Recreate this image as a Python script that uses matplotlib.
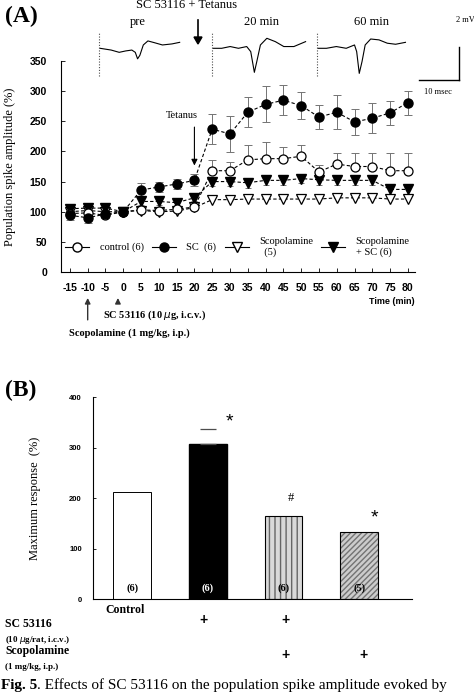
import matplotlib.pyplot as plt
from matplotlib.lines import Line2D

plt.rcParams['axes.unicode_minus'] = False

W, H = 474, 694

# ---- panel A data (population spike amplitude, %)
time_min = [-15, -10, -5, 0, 5, 10, 15, 20, 25, 30, 35, 40, 45, 50, 55, 60, 65, 70, 75, 80]
control = [97, 98, 94, 100, 103, 102, 104, 108, 168, 168, 186, 188, 188, 192, 166, 179, 175, 175, 168, 168]
control_err = [4, 4, 4, 0, 5, 5, 5, 6, 18, 15, 25, 28, 20, 18, 12, 18, 22, 22, 30, 30]
sc = [94, 90, 96, 100, 136, 141, 146, 152, 237, 229, 265, 278, 285, 276, 257, 265, 249, 255, 264, 281]
sc_err = [8, 8, 6, 0, 12, 8, 8, 10, 25, 30, 25, 30, 25, 22, 20, 28, 22, 25, 20, 20]
scop = [100, 102, 100, 100, 102, 100, 101, 107, 120, 120, 121, 121, 121, 121, 121, 123, 123, 123, 121, 121]
scop_err = [4, 4, 4, 0, 4, 4, 4, 4, 5, 5, 5, 5, 5, 5, 5, 5, 5, 5, 5, 5]
scop_sc = [105, 106, 106, 100, 117, 117, 115, 123, 150, 150, 148, 152, 152, 155, 153, 152, 152, 152, 137, 137]
scop_sc_err = [6, 6, 6, 0, 6, 6, 6, 6, 8, 8, 8, 8, 8, 8, 8, 8, 8, 8, 8, 8]

# ---- example field potential traces (ms, mV)
pre_t = [0, 2.9, 5.0, 6.7, 8.3, 9.2, 9.8, 10.4, 11.3, 12.5, 14.2, 16.3, 18.8, 20.8]
pre_mv = [0, -0.1, -0.23, -0.15, -0.1, -0.23, -0.6, -0.4, 0.19, 0.42, 0.32, 0.19, 0.25, 0.34]
m20_t = [0, 2.1, 4.2, 6.25, 8.3, 9.3, 10.2, 10.8, 11.7, 13.3, 15.4, 17.5, 20.0, 22.9]
m20_mv = [0, 0, 0.1, 0, 0.1, -0.19, -1.37, -0.76, 0.19, 0.57, 0.38, 0.1, 0.1, 0.38]
m60_t = [0, 2.1, 4.6, 7.1, 9.2, 9.75, 10.4, 11.1, 11.9, 13.3, 15.4, 17.5, 19.6, 22.1]
m60_mv = [0, 0, 0.1, 0, 0.19, -0.19, -1.43, -0.76, 0.19, 0.53, 0.48, 0.29, 0.23, 0.34]

# ---- panel B data
groups = ['Control', 'SC', 'SC + Scop', 'Scop']
max_resp = [212, 306, 165, 132]
n_labels = ['(6)', '(6)', '(6)', '(5)']

SERIF = 'Liberation Serif'
SANS = 'Liberation Sans'


def fx(px):
    return px / W


def fy(py):
    return 1 - py / H


def box(l, t, r, b):
    return [l / W, 1 - b / H, (r - l) / W, (b - t) / H]


fig = plt.figure(figsize=(W / 100, H / 100), dpi=100)

# ================= panel A =================
ax = fig.add_axes(box(61, 61, 415, 272))
ls = (0, (3, 2))
ax.errorbar(time_min, sc, yerr=sc_err, fmt='none', ecolor='0.45', elinewidth=0.7, capsize=3, capthick=0.7)
ax.errorbar(time_min, control, yerr=[[0] * len(control_err), control_err], fmt='none', ecolor='0.45',
            elinewidth=0.7, capsize=3, capthick=0.7)
ax.errorbar(time_min, scop_sc, yerr=scop_sc_err, fmt='none', ecolor='0.45', elinewidth=0.7, capsize=2, capthick=0.7)
ax.plot(time_min, scop, color='k', ls=ls, lw=0.8, marker='v', ms=6.5, mfc='white', mec='k', mew=0.9)
ax.plot(time_min, scop_sc, color='k', ls=ls, lw=0.8, marker='v', ms=6.5, mfc='k', mec='k')
ax.plot(time_min, control, color='k', ls=ls, lw=0.8, marker='o', ms=6.5, mfc='white', mec='k', mew=0.9)
ax.plot(time_min, sc, color='k', ls=ls, lw=0.8, marker='o', ms=6.5, mfc='k', mec='k')

ax.set_xlim(-17.5, 82)
ax.set_ylim(0, 350)
ax.set_xticks(time_min)
ax.set_yticks([0, 50, 100, 150, 200, 250, 300, 350])
for s in ['top', 'right']:
    ax.spines[s].set_visible(False)
ax.spines['left'].set_linewidth(0.8)
ax.spines['bottom'].set_linewidth(0.8)
ax.tick_params(direction='in', length=3, width=0.6, pad=10)
ax.tick_params(axis='x', pad=8)
for lab in ax.get_xticklabels() + ax.get_yticklabels():
    lab.set_fontfamily(SANS)
    lab.set_fontweight('bold')
    lab.set_fontsize(7.5)
ax.set_ylabel('Population spike amplitude (%)', fontfamily=SERIF, fontsize=9, labelpad=10)
ax.text(1.0, -0.14, 'Time (min)', transform=ax.transAxes, ha='right', va='center',
        fontfamily=SANS, fontweight='bold', fontsize=6.5)

handles = [
    Line2D([], [], color='k', lw=0.8, marker='o', ms=6.5, mfc='white', mec='k'),
    Line2D([], [], color='k', lw=0.8, marker='o', ms=6.5, mfc='k', mec='k'),
    Line2D([], [], color='k', lw=0.8, marker='v', ms=6.5, mfc='white', mec='k'),
    Line2D([], [], color='k', lw=0.8, marker='v', ms=6.5, mfc='k', mec='k'),
]
ax.legend(handles, ['control (6)', 'SC  (6)', 'Scopolamine\n  (5)', 'Scopolamine\n+ SC (6)'],
          loc='center left', bbox_to_anchor=(0.0, 0.12), ncol=4, frameon=False,
          prop={'family': SERIF, 'size': 7.5}, handlelength=2.3, handletextpad=1.0,
          columnspacing=0.8, borderaxespad=0)

# tetanus arrow
xa = ax.get_xaxis_transform()
ax.annotate('', xy=(20, 172), xytext=(20, 245),
            arrowprops=dict(arrowstyle='-|>', color='k', lw=0.8, mutation_scale=9))
ax.text(16.5, 252, 'Tetanus', ha='center', va='bottom', fontfamily=SERIF, fontsize=7.5)

# drug injection arrows below axis
ax.annotate('', xy=(-10, -0.11), xytext=(-10, -0.24), xycoords=xa, textcoords=xa,
            arrowprops=dict(arrowstyle='-|>', color='0.2', lw=1.0, mutation_scale=8))
ax.annotate('', xy=(-1.5, -0.11), xytext=(-1.5, -0.16), xycoords=xa, textcoords=xa,
            arrowprops=dict(arrowstyle='-|>', color='0.2', lw=1.0, mutation_scale=8))
fig.text(fx(103), fy(315), 'SC 53116 (10 $\\mu$g, i.c.v.)', ha='left', va='center',
         fontfamily=SERIF, fontweight='bold', fontsize=7.5)
fig.text(fx(69), fy(333), 'Scopolamine (1 mg/kg, i.p.)', ha='left', va='center',
         fontfamily=SERIF, fontweight='bold', fontsize=7.5)

# traces
for (l, r), tt, vv in [((100, 190), pre_t, pre_mv), ((213, 308), m20_t, m20_mv), ((318, 411), m60_t, m60_mv)]:
    tax = fig.add_axes(box(l - 3, 29, r, 79))
    tax.plot(tt, vv, color='k', lw=0.8)
    tax.plot([-0.4, -0.4], [-1.6, 0.9], color='0.3', lw=0.8, ls=(0, (1, 1.5)))
    tax.set_xlim(-0.8, 23.5)
    tax.set_ylim(-1.75, 1.1)
    tax.axis('off')

fig.text(fx(5), fy(16), '(A)', fontfamily=SERIF, fontweight='bold', fontsize=17, ha='left', va='center')
fig.text(fx(187), fy(5), 'SC 53116 + Tetanus', fontfamily=SERIF, fontsize=9, ha='center', va='center')
fig.text(fx(138), fy(22), 'pre', fontfamily=SERIF, fontsize=9, ha='center', va='center')
fig.text(fx(261), fy(22), '20 min', fontfamily=SERIF, fontsize=9, ha='center', va='center')
fig.text(fx(372), fy(22), '60 min', fontfamily=SERIF, fontsize=9, ha='center', va='center')
fig.add_artist(plt.Line2D([fx(198), fx(198)], [fy(20), fy(38)], color='k', lw=1.2))
fig.add_artist(plt.Polygon([[fx(194), fy(37)], [fx(202), fy(37)], [fx(198), fy(44)]], closed=True,
                           color='k', transform=fig.transFigure))
# scale bar
fig.add_artist(plt.Line2D([fx(459), fx(459)], [fy(47), fy(80)], color='k', lw=1.0))
fig.add_artist(plt.Line2D([fx(419), fx(459)], [fy(80), fy(80)], color='k', lw=1.0))
fig.text(fx(465), fy(20), '2 mV', fontfamily=SERIF, fontsize=6, ha='center', va='center')
fig.text(fx(438), fy(92), '10 msec', fontfamily=SERIF, fontsize=6, ha='center', va='center')

# ================= panel B =================
bx = fig.add_axes(box(93, 397, 412, 599))
pos = list(range(len(groups)))
bw = 0.5
bx.bar(pos[0], max_resp[0], bw, color='white', edgecolor='k', lw=0.7)
bx.bar(pos[1], max_resp[1], bw, color='k', edgecolor='k')
bx.errorbar(pos[1], max_resp[1], yerr=[[0], [30]], fmt='none', ecolor='0.3', elinewidth=0, capsize=6,
            capthick=0.9)
bx.bar(pos[2], max_resp[2], bw, color='0.85', edgecolor='0.4', hatch='|||', lw=0)
bx.bar(pos[2], max_resp[2], bw, fill=False, edgecolor='k', lw=0.8)
bx.bar(pos[3], max_resp[3], bw, color='0.8', edgecolor='0.45', hatch='//////', lw=0)
bx.bar(pos[3], max_resp[3], bw, fill=False, edgecolor='k', lw=0.8)
for p, lab in zip(pos, n_labels):
    bx.text(p, 22, lab, ha='center', va='center', fontfamily=SERIF, fontweight='bold', fontsize=7.5,
            color='white' if p == 1 else 'k')
bx.text(pos[1] + 0.28, 350, '*', ha='center', va='center', fontfamily=SANS, fontsize=14)
bx.text(pos[2] + 0.1, 200, '#', ha='center', va='center', fontfamily=SERIF, fontsize=9)
bx.text(pos[3] + 0.2, 160, '*', ha='center', va='center', fontfamily=SANS, fontsize=14)

bx.set_xlim(-0.52, 3.7)
bx.set_ylim(0, 400)
bx.set_xticks([])
bx.set_yticks([0, 100, 200, 300, 400])
for s in ['top', 'right']:
    bx.spines[s].set_visible(False)
bx.spines['left'].set_linewidth(0.8)
bx.spines['bottom'].set_linewidth(0.8)
bx.tick_params(direction='in', length=2, width=0.6, pad=8)
for lab in bx.get_yticklabels():
    lab.set_fontfamily(SANS)
    lab.set_fontweight('bold')
    lab.set_fontsize(5.5)
bx.set_ylabel('Maximum response  (%)', fontfamily=SERIF, fontsize=9, labelpad=20)

fig.text(fx(5), fy(390), '(B)', fontfamily=SERIF, fontweight='bold', fontsize=17, ha='left', va='center')
fig.text(fx(125), fy(610), 'Control', fontfamily=SERIF, fontweight='bold', fontsize=8.5, ha='center', va='center')
fig.text(fx(5), fy(624), 'SC 53116', fontfamily=SERIF, fontweight='bold', fontsize=8.5, ha='left', va='center')
fig.text(fx(5), fy(640), '(10 $\\mu$g/rat, i.c.v.)', fontfamily=SERIF, fontweight='bold', fontsize=6.5,
         ha='left', va='center')
fig.text(fx(5), fy(651), 'Scopolamine', fontfamily=SERIF, fontweight='bold', fontsize=8.5, ha='left', va='center')
fig.text(fx(5), fy(667), '(1 mg/kg, i.p.)', fontfamily=SERIF, fontweight='bold', fontsize=6.5,
         ha='left', va='center')
for xp, yp in [(204, 620), (286, 620), (286, 655), (363, 655)]:
    fig.text(fx(xp), fy(yp), '+', fontfamily=SANS, fontweight='bold', fontsize=10, ha='center', va='center')

# caption (bold "Fig. 5." followed by plain text)
cap1 = fig.text(fx(1), fy(692), 'Fig. 5', fontfamily=SERIF, fontweight='bold', fontsize=11,
                ha='left', va='bottom')
fig.canvas.draw()
ext = cap1.get_window_extent()
fig.text(ext.x1 / W, fy(692), '. Effects of SC 53116 on the population spike amplitude evoked by',
         fontfamily=SERIF, fontsize=11, ha='left', va='bottom')

fig.savefig('out.png', dpi=100)
